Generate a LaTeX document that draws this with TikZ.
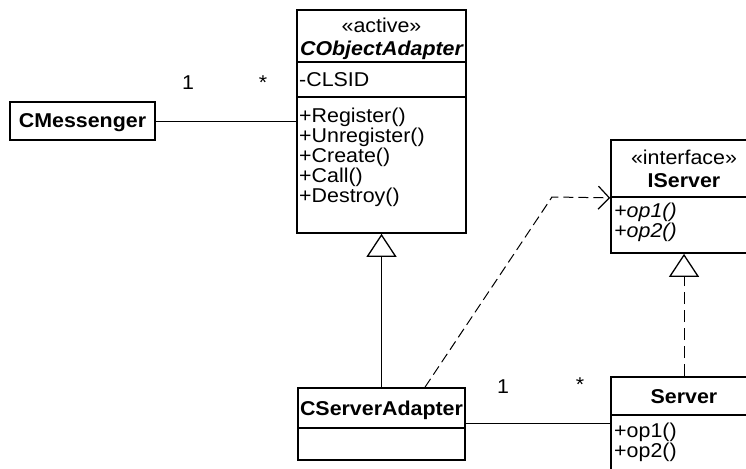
\documentclass[tikz,border=0pt]{standalone}
\usepackage{fontspec}
\setmainfont[FakeStretch=1.07]{Liberation Sans}
\usetikzlibrary{arrows.meta}
\begin{document}
\begin{tikzpicture}[x=1pt,y=-1pt,
  umlbox/.style={draw, line width=1.7pt, fill=white, inner sep=0pt},
  lbl/.style={inner sep=0pt, font=\fontsize{20}{20}\selectfont},
  conn/.style={line width=1pt},
  gen/.style={conn, -{Triangle[open, length=23pt, width=30pt, line width=1.3pt]}},
  realize/.style={gen, dash pattern=on 12pt off 6pt},
  dep/.style={conn, dash pattern=on 10pt off 5pt,
    -{Straight Barb[length=11pt, width=23pt, line width=1.2pt]}}]
\useasboundingbox (0,0) rectangle (746,468);
\clip (0,0) rectangle (746,468);

% CObjectAdapter (active class)
\node[umlbox, minimum width=169pt, minimum height=52pt]  (coaHead) at (381.5,36) {};
\node[umlbox, minimum width=169pt, minimum height=35pt]  (coaAttr) at (381.5,79.5) {};
\node[umlbox, minimum width=169pt, minimum height=136pt] (coaOps)  at (381.5,165) {};
\node[lbl, anchor=base] (coaSt) at (381.5,33) {«active»};
\node[lbl, anchor=base] (coaName) at (381.5,56) {\bfseries\itshape CObjectAdapter};
\node[lbl, anchor=base west] (coaAttr1) at (299,87) {-CLSID};
\foreach \t [count=\i from 0] in {+Register(),+Unregister(),+Create(),+Call(),+Destroy()}
  \node[lbl, anchor=base west] (coaOp\i) at (299,{122+20*\i}) {\t};

% CMessenger
\node[umlbox, minimum width=145pt, minimum height=38pt] (cm) at (82.5,121) {};
\node[lbl, anchor=base] (cmName) at (82.5,128) {\bfseries CMessenger};

% IServer (interface)
\node[umlbox, minimum width=146pt, minimum height=57pt] (isHead) at (684,168.5) {};
\node[umlbox, minimum width=146pt, minimum height=56pt] (isOps)  at (684,225) {};
\node[lbl, anchor=base] (isSt) at (684,164) {«interface»};
\node[lbl, anchor=base] (isName) at (684,187) {\bfseries IServer};
\node[lbl, anchor=base west] (isOp1) at (614,217) {\itshape +op1()};
\node[lbl, anchor=base west] (isOp2) at (614,237) {\itshape +op2()};

% CServerAdapter
\node[umlbox, minimum width=167pt, minimum height=40pt] (csaHead) at (381.5,408) {};
\node[umlbox, minimum width=167pt, minimum height=32pt] (csaBody) at (381.5,444) {};
\node[lbl, anchor=base] (csaName) at (381.5,415) {\bfseries CServerAdapter};

% Server
\node[umlbox, minimum width=146pt, minimum height=38pt] (svHead) at (684,396) {};
\node[umlbox, minimum width=146pt, minimum height=70pt] (svOps)  at (684,450) {};
\node[lbl, anchor=base] (svName) at (684,403) {\bfseries Server};
\node[lbl, anchor=base west] (svOp1) at (614,437) {+op1()};
\node[lbl, anchor=base west] (svOp2) at (614,457) {+op2()};

% association CMessenger -- CObjectAdapter
\draw[conn] (cm.east) -- (cm.east -| coaOps.west);
\node[lbl, anchor=base] (m1) at (188,90) {1};
\node[lbl, anchor=base] (m2) at (263,90) {*};

% association CServerAdapter -- Server
\draw[conn] ([yshift=-15pt]csaHead.east) -- ([yshift=-15pt]csaHead.east -| svOps.west);
\node[lbl, anchor=base] (m3) at (503,393) {1};
\node[lbl, anchor=base] (m4) at (580,391) {*};

% generalization and realization
\draw[gen] (csaHead.north) -- (coaOps.south);
\draw[realize] (svHead.north) -- (isOps.south);

% dependency CServerAdapter -> IServer
\coordinate (bend) at (552,197);
\draw[dep] ([xshift=43.5pt]csaHead.north) -- (bend) -- (isHead.south west);
\end{tikzpicture}
\end{document}
